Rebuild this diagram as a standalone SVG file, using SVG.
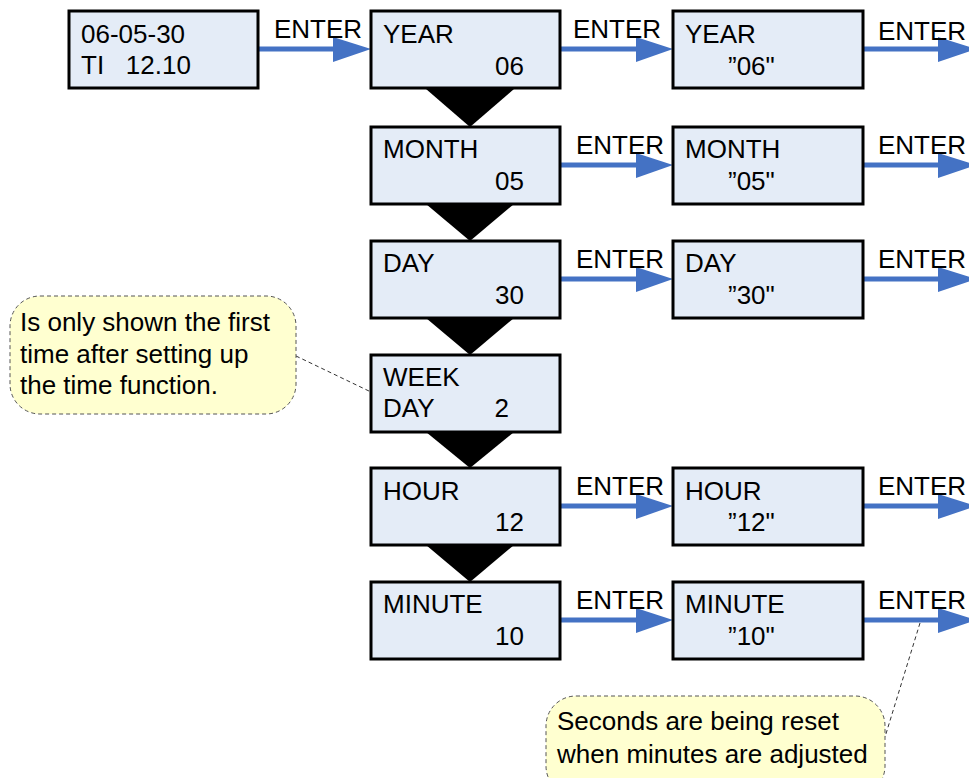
<svg xmlns="http://www.w3.org/2000/svg" width="969" height="778" viewBox="0 0 969 778">
<style>
.box{fill:#E4ECF7;stroke:#000;stroke-width:3}
.t{font-family:"Liberation Sans",Arial,sans-serif;font-size:26px;fill:#000}
.arr{stroke:#4472C4;stroke-width:5;fill:none}
.head{fill:#4472C4}
.tri{fill:#000}
.note{fill:#FFFFD0;stroke:#555;stroke-width:1;stroke-dasharray:4 3}
.lead{stroke:#333;stroke-width:1;stroke-dasharray:4 3;fill:none}
</style>
<rect width="969" height="778" fill="#fff"/>
<g id="connectors">
<g id="down">
<polygon class="tri" points="426,89 514,89 470,127"/>
<polygon class="tri" points="426,204 514,204 470,241"/>
<polygon class="tri" points="426,318 514,318 470,355"/>
<polygon class="tri" points="426,432 514,432 470,468"/>
<polygon class="tri" points="426,545 514,545 470,582"/>
</g>
<g id="enter">
<line class="arr" x1="258" y1="49" x2="336" y2="49"/><polygon class="head" points="333,37 371,49 333,62"/>
<text class="t" x="274" y="38">ENTER</text>
<line class="arr" x1="560" y1="49" x2="640" y2="49"/><polygon class="head" points="636,37 673,49 636,62"/>
<text class="t" x="573" y="38">ENTER</text>
<line class="arr" x1="863" y1="49" x2="942" y2="49"/><polygon class="head" points="938,37 976,49 938,62"/>
<text class="t" x="878" y="40">ENTER</text>

<line class="arr" x1="560" y1="165" x2="640" y2="165"/><polygon class="head" points="636,153 673,165 636,178"/>
<text class="t" x="576" y="154">ENTER</text>
<line class="arr" x1="863" y1="165" x2="942" y2="165"/><polygon class="head" points="938,153 976,165 938,178"/>
<text class="t" x="878" y="154">ENTER</text>

<line class="arr" x1="560" y1="279" x2="640" y2="279"/><polygon class="head" points="636,267 673,279 636,292"/>
<text class="t" x="576" y="268">ENTER</text>
<line class="arr" x1="863" y1="279" x2="942" y2="279"/><polygon class="head" points="938,267 976,279 938,292"/>
<text class="t" x="878" y="268">ENTER</text>

<line class="arr" x1="560" y1="506" x2="640" y2="506"/><polygon class="head" points="636,494 673,506 636,519"/>
<text class="t" x="576" y="495">ENTER</text>
<line class="arr" x1="863" y1="506" x2="942" y2="506"/><polygon class="head" points="938,494 976,506 938,519"/>
<text class="t" x="878" y="495">ENTER</text>

<line class="arr" x1="560" y1="620" x2="640" y2="620"/><polygon class="head" points="636,608 673,620 636,633"/>
<text class="t" x="576" y="609">ENTER</text>
<line class="arr" x1="863" y1="620" x2="942" y2="620"/><polygon class="head" points="938,608 976,620 938,633"/>
<text class="t" x="878" y="609">ENTER</text>
</g>
<line class="lead" x1="296" y1="356" x2="371" y2="392"/>
<line class="lead" x1="920" y1="623" x2="885" y2="737"/>
</g>
<g id="start"><rect class="box" x="69" y="11" width="189" height="77"/><text class="t" x="81" y="43">06-05-30</text><text class="t" x="81" y="74" xml:space="preserve">TI   12.10</text></g>
<g id="year"><rect class="box" x="371" y="11" width="189" height="77"/><text class="t" x="383" y="43">YEAR</text><text class="t" x="524" y="75" text-anchor="end">06</text></g>
<g id="year-edit"><rect class="box" x="673" y="11" width="190" height="77"/><text class="t" x="685" y="43">YEAR</text><text class="t" x="728" y="75">”06"</text></g>
<g id="month"><rect class="box" x="371" y="127" width="189" height="77"/><text class="t" x="383" y="158">MONTH</text><text class="t" x="524" y="190" text-anchor="end">05</text></g>
<g id="month-edit"><rect class="box" x="673" y="127" width="190" height="77"/><text class="t" x="685" y="158">MONTH</text><text class="t" x="728" y="190">”05"</text></g>
<g id="day"><rect class="box" x="371" y="241" width="189" height="77"/><text class="t" x="383" y="272">DAY</text><text class="t" x="524" y="304" text-anchor="end">30</text></g>
<g id="day-edit"><rect class="box" x="673" y="241" width="190" height="77"/><text class="t" x="685" y="272">DAY</text><text class="t" x="728" y="304">”30"</text></g>
<g id="week"><rect class="box" x="371" y="355" width="189" height="77"/><text class="t" x="383" y="386">WEEK</text><text class="t" x="383" y="417">DAY</text><text class="t" x="509" y="417" text-anchor="end">2</text></g>
<g id="hour"><rect class="box" x="371" y="468" width="189" height="77"/><text class="t" x="383" y="500">HOUR</text><text class="t" x="524" y="531" text-anchor="end">12</text></g>
<g id="hour-edit"><rect class="box" x="673" y="468" width="190" height="77"/><text class="t" x="685" y="500">HOUR</text><text class="t" x="728" y="531">”12"</text></g>
<g id="minute"><rect class="box" x="371" y="582" width="189" height="77"/><text class="t" x="383" y="613">MINUTE</text><text class="t" x="524" y="645" text-anchor="end">10</text></g>
<g id="minute-edit"><rect class="box" x="673" y="582" width="190" height="77"/><text class="t" x="685" y="613">MINUTE</text><text class="t" x="728" y="645">”10"</text></g>
<g id="note-week"><rect class="note" x="10" y="296" width="286" height="118" rx="30"/><text class="t" x="20" y="331">Is only shown the first</text><text class="t" x="20" y="363">time after setting up</text><text class="t" x="20" y="394">the time function.</text></g>
<g id="note-seconds"><rect class="note" x="546" y="696" width="339" height="100" rx="30"/><text class="t" x="557" y="730">Seconds are being reset</text><text class="t" x="557" y="763">when minutes are adjusted</text></g>
</svg>
